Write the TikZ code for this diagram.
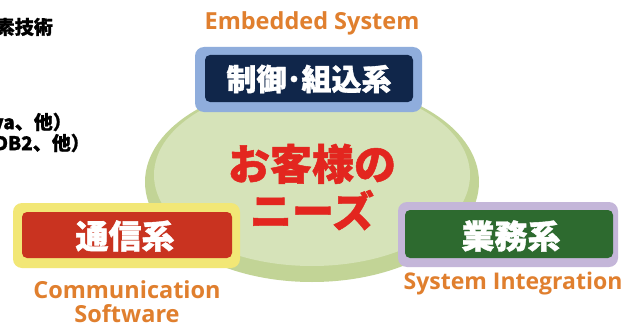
\documentclass[tikz,border=0pt]{standalone}
\usepackage{fontspec}
\setmainfont{Open Sans}
\newfontfamily\jp{Noto Sans CJK JP}
\newfontfamily\jpheavy{Noto Sans CJK JP}[UprightFeatures={FakeBold=1.2}, BoldFeatures={FakeBold=1.2}]
\definecolor{rimgreen}{HTML}{C2D496}
\definecolor{diskgreen}{HTML}{D6E3B9}
\definecolor{bluefr}{HTML}{8FADDC}
\definecolor{navy}{HTML}{10264A}
\definecolor{yellowfr}{HTML}{F2E776}
\definecolor{redbox}{HTML}{C93320}
\definecolor{lavfr}{HTML}{C4B6D9}
\definecolor{greenbox}{HTML}{2D6A2F}
\definecolor{orangetx}{HTML}{E07F2E}
\definecolor{redtx}{HTML}{E3261F}
\begin{document}
\begin{tikzpicture}[x=1pt,y=-1pt,
  outerfr/.style={rounded corners=9pt, inner sep=0, minimum width=#1, minimum height=65pt},
  innerbox/.style={rounded corners=5pt, inner sep=0},
  boxtext/.style={text=white, font=\jpheavy\bfseries\fontsize{33}{33}\selectfont, inner sep=0},
  engtext/.style={text=orangetx, font=\bfseries\fontsize{23.5}{24}\selectfont, inner sep=0, align=center},
  sidetext/.style={text=black, font=\jpheavy\bfseries\fontsize{19}{19}\selectfont, inner sep=0, anchor=east}]
\useasboundingbox (0,0) rectangle (626,329);
\clip (0,0) rectangle (626,329);
\fill[white] (0,0) rectangle (626,329);
% side texts, cut off at the left edge as in the reference
\node[sidetext] (t1) at (53,27) {要素技術};
\node[sidetext] (t2) at (72,122) {（C、Java、他）};
\node[sidetext] (t3) at (90,143) {（Oracle、DB2、他）};
% central disk
\fill[rimgreen] (312,182) ellipse [x radius=167pt, y radius=100pt];
\fill[diskgreen] (312,175) ellipse [x radius=158pt, y radius=91pt];
\node[text=redtx, font=\jpheavy\bfseries\fontsize{42}{47}\selectfont, align=center, inner sep=0] (needs) at (312,187) {お客様の\\ニーズ};
% embedded
\node[outerfr=227pt, fill=bluefr] (efr) at (308.5,79.5) {};
\node[innerbox, fill=navy, minimum width=208pt, minimum height=47pt] (ebox) at (309,78.5) {};
\node[boxtext, font=\jpheavy\bfseries\fontsize{30}{30}\selectfont] (elabel) at (309,79) {制御･組込系};
\node[engtext] (eeng) at (312,23) {Embedded System};
% communication
\node[outerfr=227pt, fill=yellowfr] (cfr) at (126.5,235.5) {};
\node[innerbox, fill=redbox, minimum width=210pt, minimum height=46pt] (cbox) at (127,235) {};
\node[boxtext] (clabel) at (125,236) {通信系};
\node[engtext] (ceng) at (127,302) {Communication\\Software};
% system integration
\node[outerfr=220pt, fill=lavfr] (sfr) at (508,234.5) {};
\node[innerbox, fill=greenbox, minimum width=208pt, minimum height=48pt] (sbox) at (509,234) {};
\node[boxtext] (slabel) at (511,236) {業務系};
\node[engtext, font=\bfseries\fontsize{23}{25}\selectfont] (seng) at (513,284) {System Integration};
\end{tikzpicture}
\end{document}
